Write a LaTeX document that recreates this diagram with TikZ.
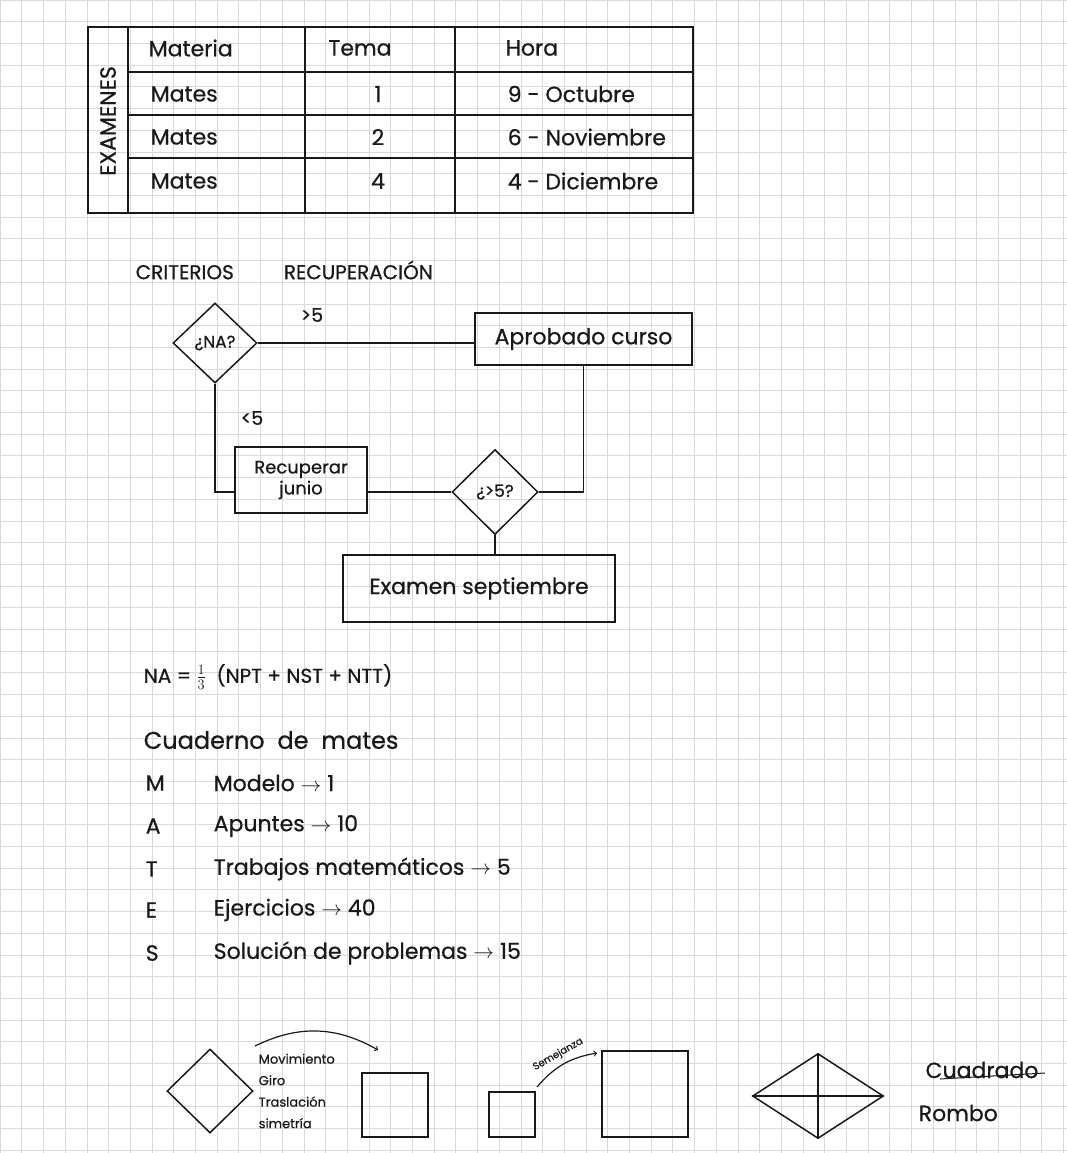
\documentclass[tikz,border=0pt]{standalone}
\usepackage{fontspec}
\setmainfont{Poppins}[UprightFeatures={FakeBold=0.6}]
\usetikzlibrary{shapes.geometric}

\begin{document}
\begin{tikzpicture}[x=1pt, y=-1pt, line width=1.5pt, color=black!90,
  gridline/.style={gray!30, line width=0.6pt},
  hand/.style={font=\fontsize{22}{26}\selectfont, inner sep=0pt},
  small/.style={font=\fontsize{17}{20}\selectfont, inner sep=0pt},
  tiny/.style={font=\fontsize{13}{21.5}\selectfont, inner sep=0pt},
  stepbox/.style={draw, rectangle, inner sep=0pt},
  decision/.style={draw, diamond, aspect=1, inner sep=0pt}]
  \useasboundingbox (0,0) rectangle (1067,1153);
  \fill[white] (0,0) rectangle (1067,1153);
  % squared paper
  \foreach \i in {0,...,49} \draw[gridline] (\i*21.7,0) -- (\i*21.7,1153);
  \foreach \j in {0,...,53} \draw[gridline] (0,\j*21.7) -- (1067,\j*21.7);

  % exam table
  \draw[line width=1.7pt] (88,27) rectangle (693,213);
  \draw[line width=1.7pt] (128,27) -- (128,213);
  \foreach \y in {72,115,158} \draw[line width=1.5pt] (128,\y) -- (693,\y);
  \foreach \x in {305,455} \draw[line width=1.5pt] (\x,27) -- (\x,213);
  \node[hand, rotate=90] (examenes) at (108,121) {EXAMENES};
  \node[hand, anchor=west] (materia) at (148,48) {Materia};
  \node[hand] (tema) at (360,48) {Tema};
  \node[hand, anchor=west] (hora) at (505,48) {Hora};
  \foreach \y/\tm/\dt [count=\i] in {94/1/9 - Octubre, 137/2/6 - Noviembre, 181/4/4 - Diciembre} {
    \node[hand, anchor=west] (mat\i) at (150,\y) {Mates};
    \node[hand] (tema\i) at (378,\y) {\tm};
    \node[hand, anchor=west] (hora\i) at (507,\y) {\dt};
  }

  % flow chart
  \node[small, anchor=west, font=\fontsize{20}{22}\selectfont] (crit) at (135,270) {CRITERIOS\hspace{50pt}RECUPERACIÓN};
  \node[decision, small, minimum width=84pt, minimum height=80pt] (na) at (215,343) {¿NA?};
  \node[stepbox, hand, minimum width=217pt, minimum height=52pt] (aprob) at (583.5,339) {Aprobado curso};
  \node[stepbox, small, align=center, font=\fontsize{18}{21}\selectfont, minimum width=132pt, minimum height=66pt] (recup) at (301,480) {Recuperar\\junio};
  \node[decision, small, minimum width=86pt, minimum height=85pt] (cond) at (495,492) {¿>5?};
  \node[stepbox, hand, minimum width=272pt, minimum height=67pt] (exam) at (479,588.5) {Examen septiembre};
  \node[small, font=\fontsize{19}{22}\selectfont] (gt) at (312,315) {>5};
  \node[small, font=\fontsize{19}{22}\selectfont] (lt) at (252,418) {<5};
  \draw (na.east) -- (na.east -| aprob.west);
  \draw (aprob.south) |- (cond.east);
  \draw (cond.west) -- (cond.west -| recup.east);
  \draw (na.south) |- (recup.west |- cond.west);
  \draw (cond.south) -- (cond.south |- exam.north);

  % notebook marks
  \node[small, anchor=west, font=\fontsize{20}{22}\selectfont] (formula) at (143,677) {NA = $\frac{1}{3}$ \ (NPT + NST + NTT)};
  \node[hand, anchor=west, font=\fontsize{24}{28}\selectfont] (cuaderno) at (143,740) {Cuaderno \ de \ mates};
  \foreach \y/\k/\t [count=\i] in {783/M/Modelo $\rightarrow$ 1, 826/A/Apuntes $\rightarrow$ 10, 869/T/Trabajos matemáticos $\rightarrow$ 5, 910/E/Ejercicios $\rightarrow$ 40, 953/S/Solución de problemas $\rightarrow$ 15} {
    \node[hand, anchor=west] (key\i) at (145,\y) {\k};
    \node[hand, anchor=west] (item\i) at (213,\y) {\t};
  }

  % shapes at the bottom
  \node[decision, minimum width=86pt, minimum height=84pt] (rot) at (210,1091) {};
  \node[tiny, anchor=north west, align=left] (mov) at (258,1053) {Movimiento\\Giro\\Traslación\\simetría};
  \node[stepbox, minimum width=66pt, minimum height=64pt] (sqA) at (395,1105) {};
  \coordinate (mvA) at (255,1046);
  \coordinate (mvB) at (378,1050);
  \draw[->, line width=1.2pt] (mvA) to[bend left=28] (mvB);
  \node[stepbox, minimum width=46pt, minimum height=45pt] (sqB) at (512,1114.5) {};
  \node[stepbox, minimum width=86pt, minimum height=86pt] (sqC) at (645,1094) {};
  \coordinate (smA) at (537,1087);
  \coordinate (smB) at (597,1053);
  \draw[->, line width=1.2pt] (smA) to[bend left=20] node[midway, sloped, above=2pt, font=\fontsize{10}{12}\selectfont] {Semejanza} (smB);
  \node[decision, minimum width=131pt, minimum height=85pt] (romb) at (818,1096) {};
  \draw (romb.north) -- (romb.south);
  \draw (romb.west) -- (romb.east);
  \node[hand] (cuad) at (982,1070) {Cuadrado};
  \draw[line width=1pt] ([shift={(-42,9)}]cuad.center) -- ([shift={(63,3)}]cuad.center);
  \node[hand, anchor=west] (rombo) at (918,1113) {Rombo};
\end{tikzpicture}
\end{document}
